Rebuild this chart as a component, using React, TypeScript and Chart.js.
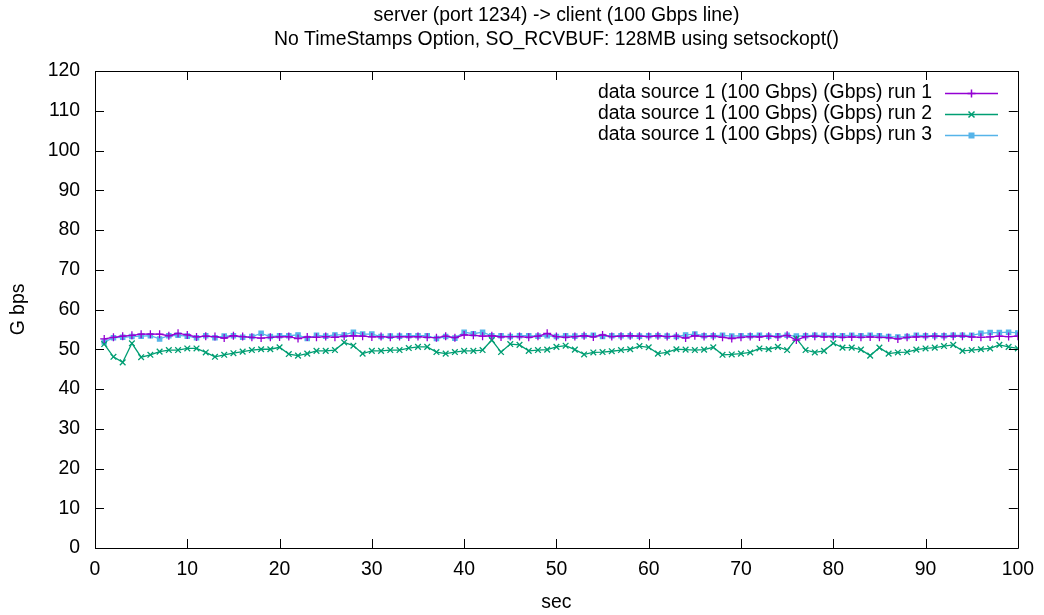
import React, { useEffect, useRef } from "react";
import { Chart, registerables } from "chart.js";

Chart.register(...registerables);

const seconds = [
  1, 2, 3, 4, 5, 6, 7, 8, 9, 10, 11, 12, 13, 14, 15, 16, 17, 18, 19, 20,
  21, 22, 23, 24, 25, 26, 27, 28, 29, 30, 31, 32, 33, 34, 35, 36, 37, 38, 39, 40,
  41, 42, 43, 44, 45, 46, 47, 48, 49, 50, 51, 52, 53, 54, 55, 56, 57, 58, 59, 60,
  61, 62, 63, 64, 65, 66, 67, 68, 69, 70, 71, 72, 73, 74, 75, 76, 77, 78, 79, 80,
  81, 82, 83, 84, 85, 86, 87, 88, 89, 90, 91, 92, 93, 94, 95, 96, 97, 98, 99, 100,
];

const run1 = [
  52.6, 53.0, 53.3, 53.5, 53.8, 53.8, 53.8, 53.4, 54.0, 53.6,
  53.1, 53.3, 53.2, 52.8, 53.4, 53.2, 53.0, 52.8, 53.0, 53.1,
  53.2, 52.7, 53.1, 53.0, 53.2, 53.0, 53.3, 53.4, 53.3, 53.1,
  53.2, 53.0, 53.2, 53.1, 53.2, 53.0, 52.9, 53.3, 52.9, 53.6,
  53.5, 53.3, 53.4, 53.1, 53.2, 53.2, 53.0, 53.3, 54.0, 53.2,
  53.0, 53.2, 53.4, 53.1, 53.6, 53.2, 53.3, 53.4, 53.3, 53.2,
  53.4, 53.2, 53.3, 52.8, 53.4, 53.2, 53.3, 53.0, 52.7, 53.0,
  53.2, 53.1, 53.3, 53.1, 53.5, 52.3, 53.2, 53.3, 53.1, 53.2,
  53.0, 53.1, 53.0, 53.1, 53.0, 52.9, 52.6, 53.0, 53.1, 53.2,
  53.3, 53.2, 53.3, 53.3, 53.1, 53.0, 53.1, 53.3, 53.2, 53.3,
];

const run2 = [
  51.3, 48.1, 46.7, 51.5, 48.0, 48.6, 49.4, 49.8, 49.8, 50.2,
  50.2, 49.2, 48.1, 48.6, 49.0, 49.4, 49.8, 50.0, 50.0, 50.5,
  48.8, 48.4, 48.9, 49.6, 49.6, 49.8, 51.7, 50.9, 48.9, 49.6,
  49.6, 49.8, 49.8, 50.3, 50.6, 50.6, 49.3, 48.9, 49.3, 49.6,
  49.6, 49.8, 52.3, 49.3, 51.3, 51.1, 49.6, 49.8, 49.9, 50.6,
  50.9, 49.9, 48.7, 49.2, 49.3, 49.5, 49.8, 50.0, 50.8, 50.5,
  48.9, 49.2, 50.0, 49.9, 49.8, 49.9, 50.5, 48.6, 48.7, 48.9,
  49.2, 50.2, 50.0, 50.6, 49.8, 52.7, 49.8, 49.2, 49.6, 51.5,
  50.4, 50.4, 49.9, 48.4, 50.4, 48.9, 49.2, 49.3, 49.9, 50.2,
  50.4, 50.8, 51.1, 49.6, 49.8, 50.0, 50.2, 51.1, 50.6, 50.2,
];

const run3 = [
  51.8, 52.9, 53.0, 53.2, 53.3, 53.4, 52.6, 53.4, 53.5, 53.3,
  52.9, 53.4, 52.9, 53.3, 53.4, 53.0, 53.2, 54.0, 53.2, 53.4,
  53.4, 53.6, 52.7, 53.5, 53.3, 53.6, 53.6, 54.3, 53.8, 53.8,
  53.2, 53.3, 53.3, 53.4, 53.4, 53.4, 52.7, 53.2, 52.8, 54.3,
  53.9, 54.3, 53.4, 53.4, 53.2, 53.4, 53.4, 53.3, 53.4, 53.2,
  53.4, 53.3, 53.4, 53.5, 53.2, 53.4, 53.4, 53.4, 53.3, 53.4,
  53.4, 53.3, 53.2, 53.6, 53.8, 53.4, 53.4, 53.5, 53.3, 53.4,
  53.4, 53.5, 53.3, 53.4, 53.5, 53.3, 53.4, 53.5, 53.5, 53.4,
  53.4, 53.5, 53.4, 53.5, 53.4, 53.2, 53.1, 53.2, 53.5, 53.4,
  53.4, 53.4, 53.5, 53.5, 53.5, 54.0, 54.2, 54.2, 54.3, 54.1,
];

const seriesLabels = [
  "data source 1 (100 Gbps) (Gbps) run 1",
  "data source 1 (100 Gbps) (Gbps) run 2",
  "data source 1 (100 Gbps) (Gbps) run 3",
];
const seriesColors = ["#9400d3", "#009e73", "#56b4e9"];
const seriesPoints = ["cross", "crossRot", "rect"];

const titleLines = [
  "server (port 1234) -> client (100 Gbps line)",
  "No TimeStamps Option, SO_RCVBUF: 128MB using setsockopt()",
];
const xTitle = "sec";
const yTitle = "G bps";

const FONT = '"Liberation Sans", Arial, sans-serif';
const FS = 19.4;

const gnuplotDecor = {
  id: "gnuplotDecor",
  afterDraw(chart: any) {
    const { ctx, chartArea } = chart;
    const { left, right, top, bottom } = chartArea;
    const xs = chart.scales.x;
    const ys = chart.scales.y;
    ctx.save();
    ctx.strokeStyle = "#000";
    ctx.lineWidth = 1;
    ctx.beginPath();
    ctx.rect(Math.round(left) + 0.5, Math.round(top) + 0.5, Math.round(right - left), Math.round(bottom - top));
    ctx.stroke();
    const tl = 9;
    ctx.beginPath();
    ys.ticks.forEach((t: any) => {
      const y = Math.round(ys.getPixelForValue(t.value)) + 0.5;
      ctx.moveTo(left, y);
      ctx.lineTo(left + tl, y);
      ctx.moveTo(right, y);
      ctx.lineTo(right - tl, y);
    });
    xs.ticks.forEach((t: any) => {
      const x = Math.round(xs.getPixelForValue(t.value)) + 0.5;
      ctx.moveTo(x, bottom);
      ctx.lineTo(x, bottom - tl);
      ctx.moveTo(x, top);
      ctx.lineTo(x, top + tl);
    });
    ctx.stroke();

    // titles
    ctx.fillStyle = "#000";
    ctx.font = `${FS}px ${FONT}`;
    ctx.textAlign = "center";
    ctx.textBaseline = "middle";
    const cx = (left + right) / 2;
    ctx.fillText(titleLines[0], cx, 16);
    ctx.fillText(titleLines[1], cx, 40);
    ctx.fillText(xTitle, cx, 603);
    ctx.save();
    ctx.translate(19, (top + bottom) / 2);
    ctx.rotate(-Math.PI / 2);
    ctx.fillText(yTitle, 0, 0);
    ctx.restore();

    // legend
    const rows = [93, 114, 135];
    chart.data.datasets.forEach((ds: any, i: number) => {
      const y = rows[i];
      ctx.textAlign = "right";
      ctx.fillStyle = "#000";
      ctx.fillText(ds.label, 932, y);
      ctx.strokeStyle = ds.borderColor;
      ctx.lineWidth = 1.5;
      ctx.beginPath();
      ctx.moveTo(945, y + 0.5);
      ctx.lineTo(998, y + 0.5);
      ctx.stroke();
      const mx = 971.5;
      ctx.beginPath();
      if (ds.pointStyle === "cross") {
        ctx.moveTo(mx - 4, y + 0.5);
        ctx.lineTo(mx + 4, y + 0.5);
        ctx.moveTo(mx, y - 3.5);
        ctx.lineTo(mx, y + 4.5);
        ctx.stroke();
      } else if (ds.pointStyle === "crossRot") {
        ctx.moveTo(mx - 3, y - 2.5);
        ctx.lineTo(mx + 3, y + 3.5);
        ctx.moveTo(mx + 3, y - 2.5);
        ctx.lineTo(mx - 3, y + 3.5);
        ctx.stroke();
      } else {
        ctx.fillStyle = ds.borderColor;
        ctx.fillRect(mx - 3, y - 2.5, 6, 6);
      }
    });
    ctx.restore();
  },
};

export default function App() {
  const ref = useRef<HTMLCanvasElement | null>(null);
  useEffect(() => {
    if (!ref.current) return;
    const datasets = [run1, run2, run3].map((vals, i) => ({
      label: seriesLabels[i],
      data: seconds.map((s, j) => ({ x: s, y: vals[j] })),
      borderColor: seriesColors[i],
      backgroundColor: seriesColors[i],
      pointBackgroundColor: seriesColors[i],
      pointBorderColor: seriesColors[i],
      pointStyle: seriesPoints[i],
      pointRadius: seriesPoints[i] === "rect" ? 3 : 4,
      pointBorderWidth: 1.3,
      borderWidth: 1.3,
      tension: 0,
    }));
    const chart = new Chart(ref.current, {
      type: "line",
      data: { datasets },
      plugins: [gnuplotDecor],
      options: {
        responsive: false,
        animation: false,
        layout: { padding: { left: 0, right: 24, top: 71, bottom: 0 } },
        plugins: {
          legend: { display: false },
          title: { display: false },
          tooltip: { enabled: false },
        },
        scales: {
          x: {
            type: "linear",
            min: 0,
            max: 100,
            grid: { display: false, drawTicks: false },
            border: { display: false },
            ticks: {
              stepSize: 10,
              color: "#000",
              font: { family: FONT, size: FS },
              padding: 10,
              maxRotation: 0,
            },
            afterFit(scale: any) {
              scale.height = 67;
            },
          },
          y: {
            min: 0,
            max: 120,
            grid: { display: false, drawTicks: false },
            border: { display: false },
            ticks: {
              stepSize: 10,
              color: "#000",
              font: { family: FONT, size: FS },
              padding: 15,
            },
            afterFit(scale: any) {
              scale.width = 95;
            },
          },
        },
      },
    });
    return () => chart.destroy();
  }, []);
  return (
    <div style={{ position: "fixed", left: 0, top: 0, width: 1044, height: 615, background: "#fff" }}>
      <canvas ref={ref} width={1044} height={615} />
    </div>
  );
}
